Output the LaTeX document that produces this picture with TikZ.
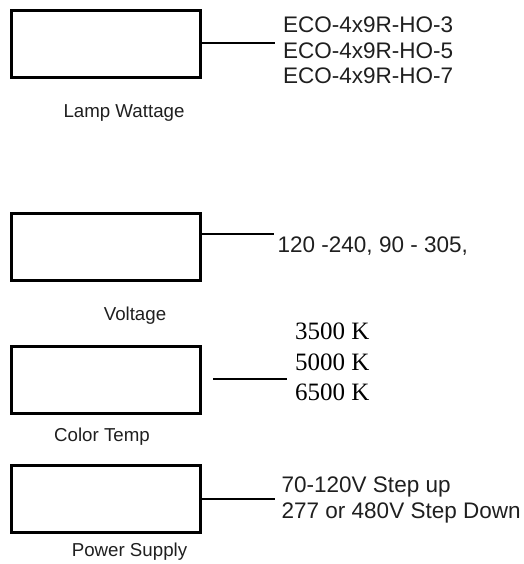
\documentclass[tikz,border=0pt]{standalone}
\usepackage{fontspec}
\setmainfont{Liberation Sans}
\newfontfamily\timesfont{Liberation Serif}
\begin{document}
\begin{tikzpicture}[x=1pt,y=-1pt,
  boxst/.style={draw=black,line width=3pt,minimum width=189pt,minimum height=67pt,inner sep=0pt,outer sep=0pt},
  conn/.style={draw=black,line width=1.1pt},
  valtext/.style={anchor=base west,inner sep=0pt,text=black!88,font=\fontsize{22.5}{26}\selectfont},
  serifval/.style={anchor=base west,inner sep=0pt,text=black,font=\timesfont\fontsize{25}{30}\selectfont},
  labeltext/.style={anchor=base,inner sep=0pt,text=black!88,font=\fontsize{18.7}{22}\selectfont}]
\useasboundingbox (0,0) rectangle (523,564);
% boxes
\node[boxst] (b1) at (106,44) {};
\node[boxst] (b2) at (106,247) {};
\node[boxst] (b3) at (106,379.5) {};
\node[boxst] (b4) at (106,499) {};
% labels
\node[labeltext] (l1) at (124,117.5) {Lamp Wattage};
\node[labeltext] (l2) at (135,320) {Voltage};
\node[labeltext] (l3) at (102,441) {Color Temp};
\node[labeltext] (l4) at (129.5,556) {Power Supply};
% values
\node[valtext] (t1a) at (283,32.3) {ECO-4x9R-HO-3};
\node[valtext] (t1b) at (283,58.5) {ECO-4x9R-HO-5};
\node[valtext] (t1c) at (283,83.5) {ECO-4x9R-HO-7};
\node[valtext] (t2) at (277.5,252.5) {120 -240, 90 - 305,};
\node[serifval] (t3a) at (295,339.5) {3500 K};
\node[serifval] (t3b) at (295,370) {5000 K};
\node[serifval] (t3c) at (295,400.5) {6500 K};
\node[valtext] (t4a) at (281.5,492) {70-120V Step up};
\node[valtext] (t4b) at (281.5,518.3) {277 or 480V Step Down};
% connector ends
\coordinate (c1s) at (b1.east |- 0,43);
\coordinate (c1e) at (275,43);
\coordinate (c2s) at (b2.east |- 0,234);
\coordinate (c2e) at (273.5,234);
\coordinate (c3s) at (213,379);
\coordinate (c3e) at (286.5,379);
\coordinate (c4s) at (b4.east |- 0,499);
\coordinate (c4e) at (275,499);
\draw[conn] (c1s) -- (c1e);
\draw[conn] (c2s) -- (c2e);
\draw[conn] (c3s) -- (c3e);
\draw[conn] (c4s) -- (c4e);
\end{tikzpicture}
\end{document}
